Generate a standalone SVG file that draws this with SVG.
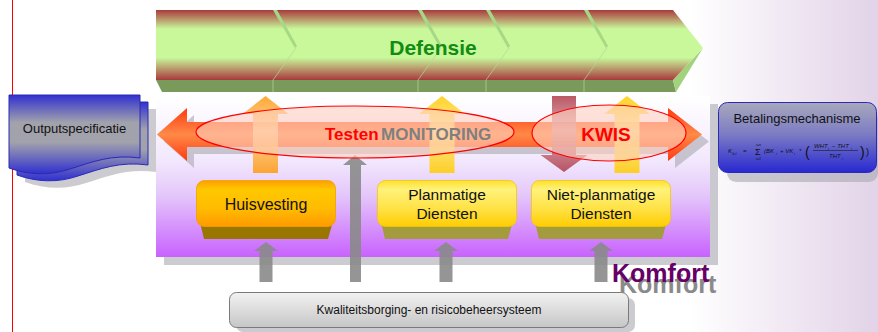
<svg xmlns="http://www.w3.org/2000/svg" width="878" height="332" viewBox="0 0 878 332">
<defs>
<style>
.t{font-family:"Liberation Sans",Arial,sans-serif;}
.b{font-weight:bold;}
.f{font-family:"Liberation Sans",Arial,sans-serif;font-size:6px;font-style:italic;fill:#111;}
.fs{font-family:"Liberation Sans",Arial,sans-serif;font-size:3.6px;font-style:italic;fill:#111;}
.shadow{fill:#a8a8b0;opacity:0.6;}
.sep{fill:#a6d886;}
.sepl{stroke:#b9d49a;stroke-width:1;opacity:0.7;fill:none;}
.ell{fill:#ffd0c0;fill-opacity:0.6;stroke:#ff0000;stroke-width:1.2;}
.garr{fill:#8a8a8a;opacity:0.9;}
</style>
<linearGradient id="gBg" x1="0" y1="0" x2="1" y2="0"><stop offset="0" stop-color="#ffffff"/><stop offset="1" stop-color="#e2d3e8"/></linearGradient>
<linearGradient id="gBanner" x1="0" y1="0" x2="0" y2="1"><stop offset="0" stop-color="#a93a3c"/><stop offset="0.27" stop-color="#c8f89a"/><stop offset="0.68" stop-color="#c8f89a"/><stop offset="1" stop-color="#a93a3c"/></linearGradient>
<linearGradient id="gPanel" x1="0" y1="0" x2="0" y2="1"><stop offset="0" stop-color="#ffffff"/><stop offset="0.4" stop-color="#f2e8fd"/><stop offset="0.62" stop-color="#e4c6fa"/><stop offset="1" stop-color="#c862fe"/></linearGradient>
<linearGradient id="gDoc" x1="0" y1="0" x2="0" y2="1"><stop offset="0" stop-color="#3030d0"/><stop offset="0.35" stop-color="#a2a2ac"/><stop offset="0.6" stop-color="#a2a2ac"/><stop offset="1" stop-color="#3030d0"/></linearGradient>
<linearGradient id="gBet" x1="0" y1="0" x2="0" y2="1"><stop offset="0" stop-color="#a8a8bc"/><stop offset="0.45" stop-color="#7c7cc4"/><stop offset="1" stop-color="#2828d2"/></linearGradient>
<linearGradient id="gDA" x1="0" y1="0" x2="0" y2="1"><stop offset="0" stop-color="#ff3a10"/><stop offset="0.5" stop-color="#ff8a48"/><stop offset="1" stop-color="#ff3a10"/></linearGradient>
<linearGradient id="gOr" x1="0" y1="0" x2="0" y2="1"><stop offset="0" stop-color="#ff9a10"/><stop offset="0.45" stop-color="#ffcf90"/><stop offset="1" stop-color="#ff9a10"/></linearGradient>
<linearGradient id="gYe" x1="0" y1="0" x2="0" y2="1"><stop offset="0" stop-color="#ffcc00"/><stop offset="0.45" stop-color="#ffe88a"/><stop offset="1" stop-color="#ffcc00"/></linearGradient>
<linearGradient id="gRd" x1="0" y1="0" x2="0" y2="1"><stop offset="0" stop-color="#a8303e"/><stop offset="0.45" stop-color="#dc9aa2"/><stop offset="1" stop-color="#a8303e"/></linearGradient>
<linearGradient id="gHuis" x1="0" y1="0" x2="0" y2="1"><stop offset="0" stop-color="#ff9e00"/><stop offset="0.2" stop-color="#ffc800"/><stop offset="0.6" stop-color="#ffbc00"/><stop offset="1" stop-color="#ff9a00"/></linearGradient>
<linearGradient id="gPlan" x1="0" y1="0" x2="0" y2="1"><stop offset="0" stop-color="#ffe030"/><stop offset="0.2" stop-color="#fff27a"/><stop offset="0.65" stop-color="#ffe040"/><stop offset="1" stop-color="#ffcc00"/></linearGradient>
<linearGradient id="gKw" x1="0" y1="0" x2="0" y2="1"><stop offset="0" stop-color="#f2f2f2"/><stop offset="1" stop-color="#c6c6c6"/></linearGradient>
</defs>

<!-- background -->
<rect x="0" y="0" width="878" height="332" fill="#ffffff"/>
<rect x="690" y="0" width="188" height="332" fill="url(#gBg)"/>
<line x1="12.5" y1="0" x2="12.5" y2="332" stroke="#ff0000" stroke-width="1"/>

<!-- panel -->
<g id="panel">
<rect class="shadow" x="164" y="104" width="554" height="161"/>
<rect x="156" y="96" width="554" height="161" fill="url(#gPanel)"/>
</g>

<!-- Outputspecificatie -->
<g id="outputspecificatie">
<path class="shadow" transform="translate(16,14)" d="M9,95 H140 V158 C112,154 92,162 70,169 C50,176 28,175 9,168 Z"/>
<path transform="translate(8,7)" d="M9,95 H140 V158 C112,154 92,162 70,169 C50,176 28,175 9,168 Z" fill="url(#gDoc)" stroke="#2a2ab4" stroke-width="1"/>
<path d="M9,95 H140 V158 C112,154 92,162 70,169 C50,176 28,175 9,168 Z" fill="url(#gDoc)" stroke="#2a2ab4" stroke-width="1"/>
<text class="t" x="74.5" y="133" font-size="13" text-anchor="middle" fill="#111">Outputspecificatie</text>
</g>

<!-- Betalingsmechanisme -->
<g id="betalingsmechanisme">
<rect class="shadow" x="727" y="110" width="151" height="72" rx="9"/>
<rect x="718.5" y="102.5" width="158" height="70" rx="9" fill="url(#gBet)" stroke="#2a2ab8" stroke-width="1"/>
<text class="t" x="797" y="123" font-size="13" text-anchor="middle" fill="#111">Betalingsmechanisme</text>
<text class="f" x="728" y="153">K</text>
<text class="fs" x="732.5" y="154.5">b,t</text>
<text class="f" x="743" y="153">=</text>
<text class="t" x="755" y="155" font-size="9" fill="#111">Σ</text>
<text class="fs" x="756" y="145.5">i=n</text>
<text class="fs" x="756" y="159.5">i=1</text>
<text class="f" x="764" y="153">(BK</text>
<text class="fs" x="776" y="154.5">i</text>
<text class="f" x="780" y="153">+ VK</text>
<text class="fs" x="794" y="154.5">i</text>
<text class="f" x="799" y="153">*</text>
<text class="t" x="805" y="156.5" font-size="14" fill="#111">(</text>
<text class="f" x="814" y="148">WHT</text>
<text class="fs" x="828" y="149.5">i</text>
<text class="f" x="832" y="148">− THT</text>
<text class="fs" x="851" y="149.5">i</text>
<line x1="813" y1="150.5" x2="858" y2="150.5" stroke="#111" stroke-width="0.5"/>
<text class="f" x="829" y="158">THT</text>
<text class="fs" x="842" y="159.5">i</text>
<text class="t" x="860" y="156.5" font-size="14" fill="#111">)</text>
<text class="t" x="866" y="155" font-size="9" fill="#111">)</text>
</g>

<!-- Defensie -->
<g id="defensie">
<polygon points="156,80 673,80 676,92 162,92" fill="#7a9a5c"/>
<polygon points="673,80 703,48 676,92" fill="#a2d27c"/>
<polygon points="156,10 673,10 703,48 673,80 156,80" fill="url(#gBanner)"/>
<polygon class="sep" points="273,10 277,10 297,46 295,48"/>
<polygon class="sep" points="418,10 422,10 442,46 440,48"/>
<polygon class="sep" points="486,10 490,10 510,46 508,48"/>
<polygon class="sep" points="584,10 588,10 608,46 606,48"/>
<polyline class="sepl" points="296,48 273,80 273,92"/>
<polyline class="sepl" points="441,48 418,80 418,92"/>
<polyline class="sepl" points="509,48 486,80 486,92"/>
<polyline class="sepl" points="607,48 584,80 584,92"/>
<text class="t b" x="433" y="55" font-size="21" text-anchor="middle" fill="#128c12">Defensie</text>
</g>

<!-- connectors -->
<g id="connectors">
<path class="shadow" transform="translate(7,7)" d="M157,134.5 L187,108 L187,122 L668,122 L668,108 L702,134.5 L668,161 L668,147 L187,147 L187,161 Z"/>
<path d="M157,134.5 L187,108 L187,122 L668,122 L668,108 L702,134.5 L668,161 L668,147 L187,147 L187,161 Z" fill="url(#gDA)"/>
<path d="M265.5,96 L288.5,114 L278,114 L278,173 L253,173 L253,114 L242.5,114 Z" fill="url(#gOr)" opacity="0.85"/>
<path d="M442,96 L465,114 L454.5,114 L454.5,173 L429.5,173 L429.5,114 L419,114 Z" fill="url(#gYe)" opacity="0.85"/>
<path d="M552,96 L576,96 L576,155 L587.5,155 L564,172 L540.5,155 L552,155 Z" fill="url(#gRd)" opacity="0.8"/>
<path d="M627,96 L650,114 L639.5,114 L639.5,173 L614.5,173 L614.5,114 L604,114 Z" fill="url(#gYe)" opacity="0.85"/>
<path class="garr" d="M266,242 L278,251 L272.5,251 L272.5,282 L259.5,282 L259.5,251 L254,251 Z"/>
<path class="garr" d="M355,155 L367,165 L361,165 L361,282 L350,282 L350,165 L343,165 Z"/>
<path class="garr" d="M446,242 L458,251 L452.5,251 L452.5,282 L439.5,282 L439.5,251 L434,251 Z"/>
<path class="garr" d="M601,242 L613,251 L607.5,251 L607.5,282 L594.5,282 L594.5,251 L589,251 Z"/>
</g>

<!-- Testen / MONITORING -->
<g id="monitoring">
<ellipse class="ell" cx="355" cy="132" rx="159" ry="26"/>
<text class="t b" x="325" y="140" font-size="17" fill="#ff0000">Testen</text>
<text class="t b" x="381" y="140" font-size="17" fill="#7f7f7f">MONITORING</text>
</g>

<!-- KWIS -->
<g id="kwis">
<ellipse class="ell" cx="609" cy="133" rx="77" ry="28"/>
<text class="t b" x="606" y="141" font-size="19" text-anchor="middle" fill="#ff0000">KWIS</text>
</g>

<!-- Huisvesting -->
<g id="huisvesting">
<polygon points="198,214 335,214 328,239 204,239" fill="#987600"/>
<rect x="196.5" y="180.5" width="139" height="46" rx="8" fill="url(#gHuis)" stroke="#f0a000" stroke-width="0.8"/>
<text class="t" x="266" y="210" font-size="16" text-anchor="middle" fill="#111">Huisvesting</text>
</g>

<!-- Planmatige Diensten -->
<g id="planmatige">
<polygon points="379,214 515,214 508,239 385,239" fill="#a29c3e"/>
<rect x="377.5" y="180.5" width="139" height="46" rx="8" fill="url(#gPlan)" stroke="#f0c800" stroke-width="0.8"/>
<text class="t" x="447" y="200" font-size="15.5" text-anchor="middle" fill="#111">Planmatige</text>
<text class="t" x="447" y="219" font-size="15.5" text-anchor="middle" fill="#111">Diensten</text>
</g>

<!-- Niet-planmatige Diensten -->
<g id="nietplanmatige">
<polygon points="533,214 669,214 662,239 539,239" fill="#a29c3e"/>
<rect x="531.5" y="180.5" width="139" height="46" rx="8" fill="url(#gPlan)" stroke="#f0c800" stroke-width="0.8"/>
<text class="t" x="601" y="200" font-size="15.5" text-anchor="middle" fill="#111">Niet-planmatige</text>
<text class="t" x="601" y="219" font-size="15.5" text-anchor="middle" fill="#111">Diensten</text>
</g>

<!-- Kwaliteitsborging -->
<g id="kwaliteitsborging">
<rect class="shadow" x="236" y="298" width="399" height="34" rx="7"/>
<rect x="229.5" y="292.5" width="399" height="35" rx="7" fill="url(#gKw)" stroke="#7a7a7a" stroke-width="1"/>
<text class="t" x="429" y="314" font-size="12" text-anchor="middle" fill="#111">Kwaliteitsborging- en risicobeheersysteem</text>
</g>

<!-- Komfort -->
<g id="komfort">
<text class="t b" x="619" y="293" font-size="25" fill="#8a8a8a">Komfort</text>
<text class="t b" x="612" y="282" font-size="25" fill="#660066">Komfort</text>
</g>
</svg>
